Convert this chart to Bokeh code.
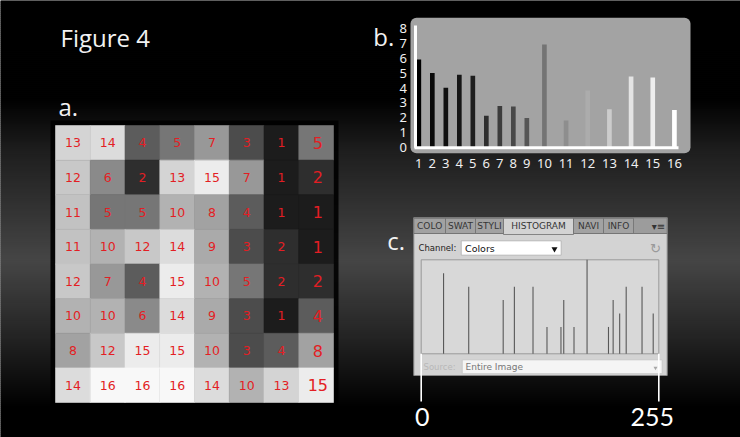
import numpy as np
from bokeh.plotting import figure
from bokeh.models import Range1d, BoxAnnotation
from bokeh.core.properties import value
from bokeh.embed import file_html
from bokeh.resources import INLINE

W, H = 740, 437

# ---------------- data ----------------
grid_values = [
    [13, 14, 4, 5, 7, 3, 1, 5],
    [12, 6, 2, 13, 15, 7, 1, 2],
    [11, 5, 5, 10, 8, 4, 1, 1],
    [11, 10, 12, 14, 9, 3, 2, 1],
    [12, 7, 4, 15, 10, 5, 2, 2],
    [10, 10, 6, 14, 9, 3, 1, 4],
    [8, 12, 15, 15, 10, 3, 4, 8],
    [14, 16, 16, 16, 14, 10, 13, 15],
]
hist_labels = ["1", "2", "3", "4", "5", "6", "7", "8", "9", "10", "11", "12", "13", "14", "15", "16"]
hist_counts = [5.92, 5.02, 4.01, 4.89, 4.82, 2.12, 2.79, 2.75, 1.98, 6.94, 1.80, 3.83, 2.57, 4.77, 4.71, 2.52]
hist_y_ticks = [0, 1, 2, 3, 4, 5, 6, 7, 8]
ps_levels = [24, 51, 88, 100, 120, 135, 150, 153, 164, 178, 201, 206, 213, 220, 237, 249]
ps_counts = [6, 5, 4, 5, 5, 2, 2, 4, 2, 7, 2, 4, 3, 5, 5, 3]
ps_end_labels = ["0", "255"]
ps_end_levels = [0, 255]
tab_labels = ["COLO", "SWAT", "STYLI", "HISTOGRAM", "NAVI", "INFO"]
panel_letters = ["a.", "b.", "c."]
title_text = "Figure 4"

# ---------------- styles ----------------
cell_gray = [0x1c, 0x2e, 0x4c, 0x5c, 0x76, 0x8a, 0x98, 0xa2, 0xaa, 0xb2,
             0xc2, 0xc8, 0xd4, 0xdc, 0xec, 0xf8]
bar_gray = [0x00, 0x0a, 0x10, 0x16, 0x1e, 0x2e, 0x3c, 0x48, 0x56, 0x74,
            0x8e, 0xac, 0xcc, 0xe4, 0xee, 0xff]


def gray(g):
    g = int(g)
    return "#%02x%02x%02x" % (g, g, g)


def xr(p0, p1, v0, v1):
    k = (v1 - v0) / (p1 - p0)
    return Range1d(start=v0 - p0 * k, end=v0 + (W - p0) * k)


def yr(p0, p1, v0, v1):
    k = (v1 - v0) / (p1 - p0)
    return Range1d(start=v0 + (H - p0) * k, end=v0 - p0 * k)


def lin(p0, p1, v0, v1):
    k = (v1 - v0) / (p1 - p0)
    return lambda px: v0 + (px - p0) * k


p = figure(width=W, height=H, output_backend="svg", toolbar_location=None,
           x_axis_location=None, y_axis_location=None, min_border=0,
           x_range=Range1d(0, W), y_range=Range1d(H, 0),
           outline_line_color=None, background_fill_color="black",
           border_fill_color="black")
p.grid.visible = False

# panel coordinate systems
A_BOX = (55, 333, 125, 402)
B_X = (411.58, 744.92)
B_Y = (146.7, 28.3)
C_BOX = (420.7, 658.3, 353.3, 259.3)

p.extra_x_ranges = {
    "a": xr(A_BOX[0], A_BOX[1], 0, 8),
    "b": xr(B_X[0], B_X[1], 0, 1000),
    "c": xr(C_BOX[0], C_BOX[1], 0, 255),
}
p.extra_y_ranges = {
    "a": yr(A_BOX[2], A_BOX[3], 0, 8),
    "b": yr(B_Y[0], B_Y[1], 0, 8),
    "c": yr(C_BOX[2], C_BOX[3], 0, max(ps_counts)),
}
b_u = lin(B_X[0], B_X[1], 0, 1000)
b_v = lin(B_Y[0], B_Y[1], 0, 8)

# ---------------- background gradient ----------------
stops_y = [0, 100, 150, 260, 337, 383, 405, 437]
stops_g = [0, 2, 0x1e, 0x46, 0x24, 0x0c, 0x01, 0]
bands = np.arange(0, H, 2)
bg = np.interp(bands + 1, stops_y, stops_g)
p.quad(left=0, right=W, top=bands, bottom=bands + 2.6,
       fill_color=[gray(v) for v in bg], line_color=None, level="image")

# ---------------- panel a: grid ----------------
p.quad(left=A_BOX[0] - 5, right=A_BOX[1] + 5, top=A_BOX[2] - 5, bottom=A_BOX[3] + 5,
       fill_color="black", fill_alpha=0.9, line_color=None, level="image")
cx, cy, cv, cc = [], [], [], []
for r, row in enumerate(grid_values):
    for c, v in enumerate(row):
        cx.append(c + 0.5)
        cy.append(r + 0.5)
        cv.append(str(v))
        cc.append(gray(cell_gray[v - 1]))
p.rect(x=cx, y=cy, width=1, height=1, fill_color=cc, line_color=cc, line_width=0.6,
       x_range_name="a", y_range_name="a")
n = len(grid_values[0])
small = [i for i in range(len(cx)) if int(cx[i]) < n - 1]
big = [i for i in range(len(cx)) if int(cx[i]) == n - 1]
p.text(x=[cx[i] for i in small], y=[cy[i] for i in small], text=[cv[i] for i in small],
       text_align="center", text_baseline="middle", text_color="#e31e24",
       text_font=value("DejaVu Sans"), text_font_size="12.5px",
       x_range_name="a", y_range_name="a")
p.text(x=[cx[i] + 0.05 for i in big], y=[cy[i] for i in big], text=[cv[i] for i in big],
       text_align="center", text_baseline="middle", text_color="#e31e24",
       text_font=value("DejaVu Sans"), text_font_size="16px",
       x_range_name="a", y_range_name="a")

# ---------------- panel b: bar histogram ----------------
p.add_layout(BoxAnnotation(left=410, right=690, top=17.3, bottom=152.7,
                           fill_color="#a3a3a3", fill_alpha=1.0, line_color=None,
                           border_radius=6, level="underlay"))
slot_w = [16 + 24.5 * len(s) for s in hist_labels]
centers = list(np.cumsum(slot_w) - np.array(slot_w) / 2)
p.vbar(x=centers, width=14, top=hist_counts, bottom=0,
       fill_color=[gray(g) for g in bar_gray], line_color=None,
       x_range_name="b", y_range_name="b")
p.segment(x0=[415, 414], x1=[415, 678], y0=[25, 147.3], y1=[147.3, 147.3],
          line_color="white", line_width=3)
p.text(x=centers, y=[b_v(162.7)] * len(centers), text=hist_labels,
       text_align="center", text_baseline="middle", text_color="#f0f0f0",
       text_font=value("Noto Sans"), text_font_size="13px",
       x_range_name="b", y_range_name="b")
p.text(x=[b_u(402.7)] * len(hist_y_ticks), y=hist_y_ticks, text=[str(t) for t in hist_y_ticks],
       text_align="center", text_baseline="middle", text_color="#f0f0f0",
       text_font=value("Noto Sans"), text_font_size="13px",
       x_range_name="b", y_range_name="b")

# ---------------- panel c: Photoshop histogram panel ----------------
p.quad(left=413.3, right=666.7, top=217.3, bottom=375, fill_color="#d3d3d3",
       line_color="#8a8a8a", line_width=1)
tab_edges = [413.3, 445, 475, 503, 573, 603, 633, 666.7]
p.quad(left=413.3, right=666.7, top=217.3, bottom=233, fill_color="#9c9c9c",
       line_color="#777777")
tab_fill = ["#d3d3d3" if t == "HISTOGRAM" else "#a2a2a2" for t in tab_labels]
p.quad(left=tab_edges[:-2], right=tab_edges[1:-1], top=217.8,
       bottom=[234 if t == "HISTOGRAM" else 233 for t in tab_labels],
       fill_color=tab_fill, line_color="#707070", line_width=0.8)
p.text(x=[(tab_edges[i] + tab_edges[i + 1]) / 2 for i in range(len(tab_labels))],
       y=225.5, text=tab_labels, text_align="center", text_baseline="middle",
       text_color="#353535", text_font=value("DejaVu Sans"), text_font_size="9px")
p.text(x=[658], y=[225.5], text=["▾≡"], text_align="center", text_baseline="middle",
       text_color="#333333", text_font=value("DejaVu Sans"), text_font_size="10px")
p.text(x=[418], y=[247.5], text=["Channel:"], text_align="left", text_baseline="middle",
       text_color="#222222", text_font=value("DejaVu Sans"), text_font_size="8.5px")
p.quad(left=460.7, right=560.7, top=240.3, bottom=254.7, fill_color="white",
       line_color="#b8b8b8")
p.text(x=[464.5], y=[248], text=["Colors"], text_align="left", text_baseline="middle",
       text_color="#111111", text_font=value("DejaVu Sans"), text_font_size="9.5px")
p.scatter(x=[554], y=[248.5], marker="inverted_triangle", size=6, fill_color="#111111",
          line_color=None)
p.text(x=[655], y=[248], text=["↻"], text_align="center", text_baseline="middle",
       text_color="#9a9a9a", text_font=value("DejaVu Sans"), text_font_size="13px")
p.quad(left=C_BOX[0], right=C_BOX[1], top=C_BOX[3], bottom=C_BOX[2],
       fill_color="#d8d8d8", line_color="#9a9a9a", line_width=1)
p.segment(x0=ps_levels, x1=ps_levels, y0=0, y1=ps_counts, line_color="#585858",
          line_width=1.1, x_range_name="c", y_range_name="c")
p.text(x=[423], y=[366.5], text=["Source:"], text_align="left", text_baseline="middle",
       text_color="#b8b8b8", text_font=value("DejaVu Sans"), text_font_size="8.5px")
p.quad(left=461.7, right=661.7, top=359.3, bottom=373.3, fill_color="#f5f5f5",
       line_color="#c8c8c8")
p.text(x=[465], y=[366.5], text=["Entire Image"], text_align="left", text_baseline="middle",
       text_color="#777777", text_font=value("DejaVu Sans"), text_font_size="9px")
p.scatter(x=[655], y=[367.5], marker="inverted_triangle", size=4, fill_color="#a8a8a8",
          line_color=None)

# pointers and 0 / 255 labels
p.segment(x0=ps_end_levels, x1=ps_end_levels, y0=353.3, y1=401, line_color="white",
          line_width=1.6, x_range_name="c")
p.text(x=ps_end_levels, y=416, text=ps_end_labels, x_offset=[1, -6.6],
       text_align="center", text_baseline="middle", text_color="white",
       text_font=value("Lato"), text_font_size="25px", x_range_name="c")

# ---------------- titles ----------------
p.text(x=[60], y=[36.5], text=[title_text], text_align="left", text_baseline="middle",
       text_color="#f2f2f2", text_font=value("Open Sans"), text_font_size="24px")
p.text(x=[58, 372.7, 386.7], y=[106, 36, 239.5], text=panel_letters, text_align="left",
       text_baseline="middle", text_color="#f2f2f2",
       text_font=value("Open Sans"), text_font_size="24px")

open("out.html", "w").write(file_html(p, INLINE))
